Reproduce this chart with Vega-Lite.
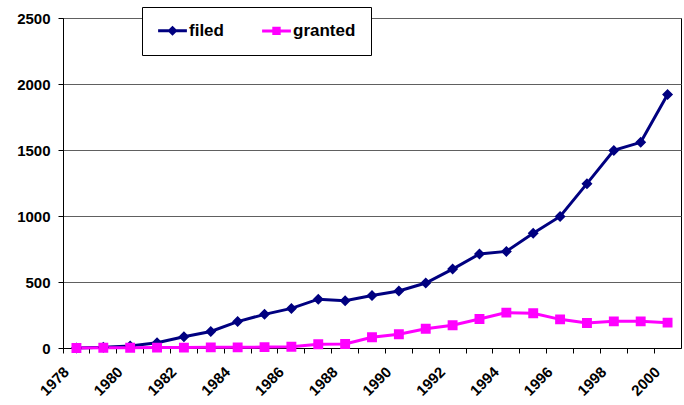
{
  "$schema": "https://vega.github.io/schema/vega-lite/v6.json",
  "width": 618,
  "height": 330,
  "autosize": {"type": "none"},
  "padding": {"left": 63, "top": 18, "right": 3, "bottom": 57},
  "background": "white",
  "config": {"font": "Liberation Sans", "view": {"stroke": "#000", "strokeWidth": 1}},
  "data": {"values": [
    {"year": 1978, "series": "filed", "value": 0},
    {"year": 1979, "series": "filed", "value": 5},
    {"year": 1980, "series": "filed", "value": 15},
    {"year": 1981, "series": "filed", "value": 40},
    {"year": 1982, "series": "filed", "value": 85},
    {"year": 1983, "series": "filed", "value": 125},
    {"year": 1984, "series": "filed", "value": 200},
    {"year": 1985, "series": "filed", "value": 255},
    {"year": 1986, "series": "filed", "value": 300},
    {"year": 1987, "series": "filed", "value": 370},
    {"year": 1988, "series": "filed", "value": 358},
    {"year": 1989, "series": "filed", "value": 398},
    {"year": 1990, "series": "filed", "value": 432},
    {"year": 1991, "series": "filed", "value": 492},
    {"year": 1992, "series": "filed", "value": 598},
    {"year": 1993, "series": "filed", "value": 712},
    {"year": 1994, "series": "filed", "value": 732},
    {"year": 1995, "series": "filed", "value": 869},
    {"year": 1996, "series": "filed", "value": 997},
    {"year": 1997, "series": "filed", "value": 1245},
    {"year": 1998, "series": "filed", "value": 1497},
    {"year": 1999, "series": "filed", "value": 1558},
    {"year": 2000, "series": "filed", "value": 1920},
    {"year": 1978, "series": "granted", "value": 0},
    {"year": 1979, "series": "granted", "value": 2},
    {"year": 1980, "series": "granted", "value": 2},
    {"year": 1981, "series": "granted", "value": 3},
    {"year": 1982, "series": "granted", "value": 3},
    {"year": 1983, "series": "granted", "value": 5},
    {"year": 1984, "series": "granted", "value": 5},
    {"year": 1985, "series": "granted", "value": 7},
    {"year": 1986, "series": "granted", "value": 10},
    {"year": 1987, "series": "granted", "value": 28},
    {"year": 1988, "series": "granted", "value": 30},
    {"year": 1989, "series": "granted", "value": 81},
    {"year": 1990, "series": "granted", "value": 104},
    {"year": 1991, "series": "granted", "value": 146},
    {"year": 1992, "series": "granted", "value": 172},
    {"year": 1993, "series": "granted", "value": 220},
    {"year": 1994, "series": "granted", "value": 268},
    {"year": 1995, "series": "granted", "value": 263},
    {"year": 1996, "series": "granted", "value": 217},
    {"year": 1997, "series": "granted", "value": 189},
    {"year": 1998, "series": "granted", "value": 202},
    {"year": 1999, "series": "granted", "value": 202},
    {"year": 2000, "series": "granted", "value": 192}
  ]},
  "encoding": {
    "x": {
      "field": "year", "type": "ordinal",
      "scale": {"type": "band", "paddingInner": 0, "paddingOuter": 0},
      "axis": {
        "title": null, "bandPosition": 0, "labelAngle": -45, "labelAlign": "right",
        "labelBaseline": "middle", "labelOffset": -10, "labelPadding": 16,
        "labelExpr": "datum.value % 2 === 0 ? datum.label : ''",
        "labelFontSize": 15, "labelFontWeight": "bold", "labelColor": "#000",
        "labelOverlap": false, "labelFlush": false, "labelBound": false,
        "tickColor": "#000", "tickSize": 5, "domainColor": "#000", "grid": false
      }
    },
    "y": {
      "field": "value", "type": "quantitative",
      "scale": {"domain": [0, 2500], "nice": false},
      "axis": {
        "title": null, "values": [0, 500, 1000, 1500, 2000, 2500], "format": "d",
        "grid": true, "gridColor": "#606060", "tickSize": 5, "tickColor": "#000",
        "domainColor": "#000", "labelFontSize": 15, "labelFontWeight": "bold",
        "labelPadding": 8, "labelColor": "#000"
      }
    },
    "color": {
      "field": "series", "type": "nominal",
      "scale": {"domain": ["filed", "granted"], "range": ["#000080", "#FF00FF"]},
      "legend": {
        "title": null, "orient": "none", "legendX": 79, "legendY": -11,
        "direction": "horizontal", "fillColor": "white", "strokeColor": "#000",
        "padding": 15, "labelFontSize": 17, "labelFontWeight": "bold", "labelColor": "#000",
        "symbolSize": 36, "symbolOffset": 7, "labelOffset": 8, "columnPadding": 32,
        "symbolStrokeWidth": 3
      }
    },
    "shape": {
      "field": "series", "type": "nominal",
      "scale": {
        "domain": ["filed", "granted"],
        "range": [
          "M-4.8,0L4.8,0M0,-1L1,0L0,1L-1,0Z",
          "M-4.8,0L4.8,0M-0.9,-0.9L0.9,-0.9L0.9,0.9L-0.9,0.9Z"
        ]
      },
      "legend": {
        "title": null, "orient": "none", "legendX": 79, "legendY": -11,
        "direction": "horizontal", "fillColor": "white", "strokeColor": "#000",
        "padding": 15, "labelFontSize": 17, "labelFontWeight": "bold", "labelColor": "#000",
        "symbolSize": 36, "symbolOffset": 7, "labelOffset": 8, "columnPadding": 32,
        "symbolStrokeWidth": 3
      }
    }
  },
  "layer": [
    {"mark": {"type": "line", "strokeWidth": 3}, "encoding": {"shape": {"value": "circle"}}},
    {"mark": {"type": "point", "filled": true, "opacity": 1, "size": 121}}
  ]
}
